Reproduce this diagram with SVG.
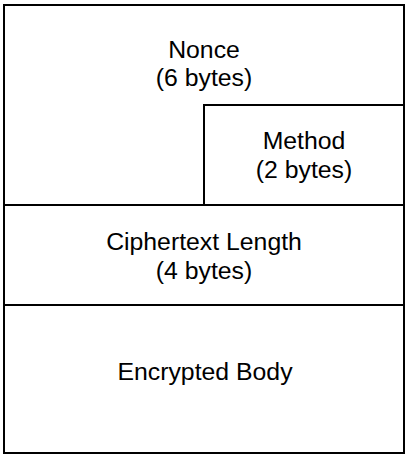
<svg xmlns="http://www.w3.org/2000/svg" width="407" height="459" viewBox="0 0 407 459">
<style>
.f{fill:#fff;stroke:#000;stroke-width:2}
.t{font-family:"Liberation Sans",Arial,sans-serif;font-size:24.8px;fill:#000;text-anchor:middle}
</style>
<rect x="0" y="0" width="407" height="459" fill="#fff"/>
<g id="nonce">
<path class="f" d="M4,5 H404 V105 H204 V205 H4 Z"/>
<text class="t" x="204" y="57.5">Nonce</text>
<text class="t" x="204" y="85.5">(6 bytes)</text>
</g>
<g id="method">
<rect class="f" x="204" y="105" width="200" height="100"/>
<text class="t" x="304" y="149">Method</text>
<text class="t" x="304" y="177.5">(2 bytes)</text>
</g>
<g id="ciphertext-length">
<rect class="f" x="4" y="205" width="400" height="100"/>
<text class="t" x="204" y="250">Ciphertext Length</text>
<text class="t" x="204" y="279">(4 bytes)</text>
</g>
<g id="encrypted-body">
<rect class="f" x="4" y="305" width="400" height="148"/>
<text class="t" x="205" y="380">Encrypted Body</text>
</g>
</svg>
